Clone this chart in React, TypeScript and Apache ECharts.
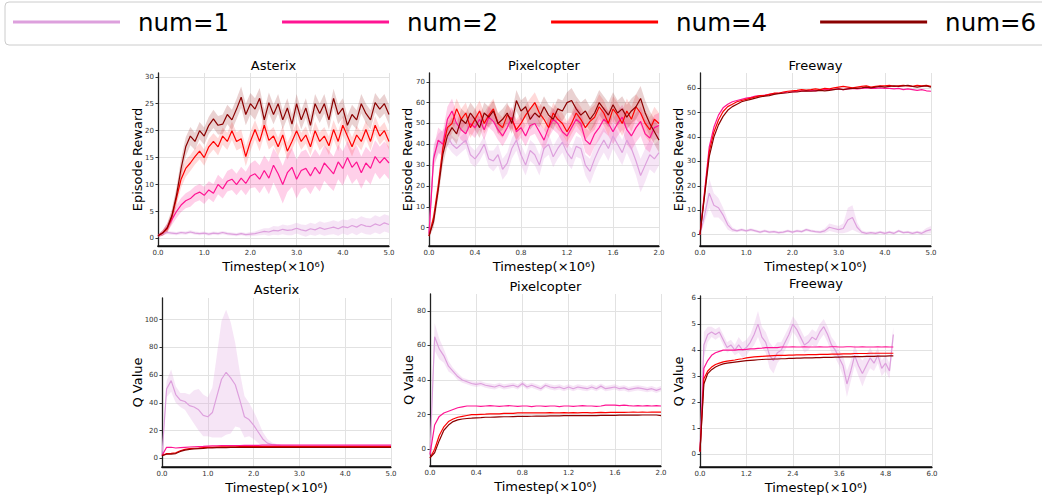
import React, { useEffect, useRef } from "react";
import * as echarts from "echarts";

const NAMES = ["num=1", "num=2", "num=4", "num=6"];
const COLORS = ["#DDA0DD", "#FF1493", "#FF0000", "#8B0000"];
const BAND_COLORS = ["rgba(221,160,221,0.28)", "rgba(255,20,147,0.2)", "rgba(255,0,0,0.15)", "rgba(139,0,0,0.18)"];

// sampling grids (x positions, in units of 1e6 timesteps)
const sampleGrid = (end: number, n: number) =>
  Array.from({ length: n }, (_, i) => Math.round((i * end) / (n - 1) * 1000) / 1000);
const X_5 = sampleGrid(5, 51);
const X_2 = sampleGrid(2, 51);

// tick values
const XT_5 = [0, 1, 2, 3, 4, 5];
const XT_2 = [0, 0.4, 0.8, 1.2, 1.6, 2.0];
const XT_6 = [0, 1.2, 2.4, 3.6, 4.8, 6.0];
const YT_AR = [0, 5, 10, 15, 20, 25, 30];
const YT_PR = [0, 10, 20, 30, 40, 50, 60, 70];
const YT_FR = [0, 10, 20, 30, 40, 50, 60];
const YT_AQ = [0, 20, 40, 60, 80, 100];
const YT_PQ = [0, 20, 40, 60, 80];
const YT_FQ = [0, 1, 2, 3, 4, 5, 6];

// ---- Asterix, Episode Reward ----
const AR1 = [0.5,0.9,1.1,1.0,0.9,1.1,1.0,1.2,1.0,0.9, 1.0,0.8,1.0,0.9,1.1,0.9,0.8,0.7,0.9,0.7, 0.8,0.9,1.1,1.3,1.2,1.5,1.4,1.7,1.5,1.6, 1.9,1.6,1.4,1.8,1.6,2.0,1.7,1.9,2.1,1.8, 2.2,2.0,2.4,2.1,2.6,2.3,2.2,2.7,2.4,2.9, 2.6];
const AR1_B = [0.2,0.3,0.3,0.3,0.3,0.3,0.3,0.3,0.3,0.3, 0.3,0.3,0.3,0.3,0.3,0.3,0.3,0.3,0.3,0.3, 0.4,0.4,0.5,0.6,0.7,0.8,0.8,0.9,0.9,1.0, 1.0,1.0,1.1,1.1,1.1,1.2,1.2,1.2,1.3,1.3, 1.3,1.4,1.4,1.5,1.5,1.5,1.5,1.6,1.6,1.6, 1.6];
const AR2 = [0.5,1.0,2.0,3.5,5.0,6.2,7.0,7.4,8.2,8.6, 8.0,9.0,8.4,10.0,9.2,10.6,11.0,10.0,11.2,10.2, 11.6,12.0,11.0,12.6,11.2,13.6,12.0,10.0,12.2,13.2, 11.0,12.6,13.0,11.6,13.2,12.0,14.0,13.0,12.0,14.2, 13.0,15.0,13.2,14.2,12.2,14.0,13.0,15.2,14.0,15.0, 14.0];
const AR2_B = [0.3,0.5,0.8,1.0,1.2,1.3,1.4,1.5,1.5,1.5, 1.6,1.6,1.7,1.8,1.8,1.9,2.0,2.0,2.1,2.2, 2.3,2.5,2.6,2.8,3.0,3.2,3.4,3.5,3.6,3.6, 3.6,3.5,3.5,3.4,3.4,3.3,3.3,3.3,3.2,3.2, 3.2,3.1,3.1,3.1,3.0,3.0,3.0,3.0,3.0,3.0, 3.0];
const AR4 = [0.5,1.0,1.8,4.0,7.5,11.0,13.0,14.0,15.2,16.2, 15.0,17.0,18.0,17.0,19.0,18.0,20.0,18.0,18.5,15.2, 18.0,20.2,18.0,21.0,18.2,19.0,17.0,19.2,16.2,18.0, 20.0,18.0,19.2,17.0,20.0,18.0,19.0,17.2,20.2,18.0, 21.0,19.0,17.0,19.2,18.0,20.2,18.0,21.0,19.0,20.0, 18.0];
const AR4_B = [0.2,0.5,0.8,1.2,1.5,1.6,1.6,1.5,1.5,1.5, 1.5,1.5,1.5,1.6,1.6,1.6,1.7,1.7,1.7,1.8, 1.8,1.8,1.8,1.8,1.7,1.7,1.7,1.7,1.6,1.6, 1.6,1.6,1.6,1.6,1.7,1.7,1.7,1.7,1.8,1.8, 1.8,1.8,1.8,1.7,1.7,1.7,1.7,1.7,1.6,1.6, 1.6];
const AR6 = [0.5,1.0,2.0,4.2,8.0,13.0,17.0,19.0,18.0,20.0, 19.0,21.0,22.2,21.0,21.2,23.0,22.0,24.0,26.2,23.0, 25.0,24.0,26.0,22.0,25.2,23.0,25.0,22.0,24.2,21.2, 25.0,22.0,24.2,21.0,25.0,23.2,25.0,22.0,26.0,23.0, 24.2,21.0,23.0,22.0,25.0,23.2,22.0,25.2,24.0,25.0, 23.0];
const AR6_B = [0.2,0.5,0.8,1.2,1.5,1.8,1.8,1.7,1.6,1.6, 1.6,1.6,1.7,1.7,1.8,1.8,1.9,1.9,2.0,2.0, 2.0,2.0,1.9,1.9,1.9,1.8,1.8,1.8,1.8,1.8, 1.8,1.8,1.8,1.8,1.8,1.8,1.8,1.8,1.8,1.8, 1.8,1.8,1.8,1.8,1.8,1.8,1.8,1.8,1.8,1.8, 1.8];

// ---- Pixelcopter, Episode Reward ----
const PR1 = [-3,35,40,42,44,40,38,40,42,35, 33,36,40,33,32,35,28,31,38,42, 35,30,37,35,30,38,40,34,38,41, 36,33,39,38,30,27,33,38,42,38, 44,40,36,42,38,32,25,30,35,33, 36];
const PR1_B = [1,5,5,5,5,4,4,4,4,4, 4,4,4,4,5,5,5,5,5,5, 5,5,5,5,5,5,5,5,5,5, 5,5,5,5,5,6,6,6,6,6, 6,6,6,6,7,7,8,8,7,7, 6];
const PR2 = [-3,33,42,40,52,56,50,47,45,50, 48,52,47,53,51,47,44,48,53,46, 48,44,49,50,46,42,48,52,50,46, 44,48,52,50,42,40,45,48,52,50, 46,50,53,47,44,48,51,45,43,48, 49];
const PR2_B = [1,5,6,6,6,6,5,5,5,5, 5,5,5,5,5,5,5,5,5,5, 5,5,5,5,5,5,5,5,5,5, 6,6,6,6,6,6,6,6,6,6, 6,6,6,7,7,7,7,7,7,6, 6];
const PR4 = [-4,5,20,38,48,50,57,52,55,48, 52,56,50,54,57,50,48,54,52,47, 50,54,57,60,55,52,48,55,52,50, 46,50,55,52,48,51,53,58,55,50, 57,54,50,56,52,58,55,50,47,52, 50];
const PR4_B = [1,3,4,5,5,5,5,5,5,5, 5,5,5,5,5,5,5,5,5,5, 5,5,5,5,5,5,5,5,5,5, 5,5,6,6,6,6,6,6,6,6, 6,6,6,6,6,6,6,6,6,6, 5];
const PR6 = [-4,3,18,35,44,48,45,52,50,55, 52,48,55,53,56,50,52,55,50,61, 56,58,52,55,53,58,54,52,57,56, 60,61,57,54,56,52,55,60,57,54, 59,55,57,53,56,58,62,55,50,46, 42];
const PR6_B = [1,3,4,5,5,5,5,5,5,5, 5,5,5,5,5,5,5,5,5,5, 5,5,5,5,5,5,5,5,5,5, 5,6,6,6,6,6,6,6,6,6, 6,6,6,6,6,6,6,6,6,6, 6];

// ---- Freeway, Episode Reward ----
const FR1 = [0,8,17,12,11,8,4,2,1.5,2, 1.5,2,1.5,1,1.5,1,1.2,0.8,1,1.5, 1,1.5,1.2,2,1.5,1.2,1,1.5,3,2.5, 2,2.5,6,7,3,1,0.5,0.8,0.5,1, 0.5,1,0.5,1.5,0.8,1,0.5,1,0.5,1.5, 2];
const FR1_B = [0,3,6,5,4,3,2,1,0.6,0.6, 0.6,0.6,0.6,0.6,0.6,0.6,0.6,0.6,0.6,0.6, 0.6,0.6,0.6,0.6,0.6,0.6,0.6,1.0,1.5,1.5, 1.5,2.0,5.0,5.0,2.0,0.8,0.6,0.6,0.6,0.6, 0.6,0.6,0.6,0.6,0.6,0.6,0.6,0.6,0.8,1.2, 1.5];
const FR2 = [0,18,36,44,49,52,53.5,54.5,55,55.5, 56,56.3,56.8,57,57.2,57.5,57.8,58,58.2,58.5, 58.5,58.8,59,59,59.2,59,59.3,59.5,59.5,59.6, 59.8,59.5,59.8,60,59.8,60,60.2,60,60,60.2, 60,60,59.8,60,59.5,59.8,59.5,59.2,59.5,59,58.8];
const FR4 = [0,17,34,42,47,50.5,52.5,53.5,54.5,55, 55.5,56,56.5,57,57,57.5,58,58,58.5,58.8, 59,59.2,59.5,59.3,59.5,59.8,59.5,60,59.8,60.2, 60.5,60.8,60.5,60.2,60.5,60.8,61,60.5,60.8,61, 61,61.2,60.8,61,61.2,61,60.8,61.2,61,61.2,60.8];
const FR6 = [0,16,32,40,45,48.5,51,52.5,53.5,54.5, 55,55.5,56,56.5,56.8,57,57.5,57.8,58,58.2, 58.5,58.5,58.8,59,58.8,59,59.2,59,59.2,59.5, 59.8,59.5,59.8,60,60,60.2,60.5,60.2,60.5,60.8, 60.5,60.8,61,60.8,61,61.2,60.8,60.5,60.8,61,60.5];

// ---- Asterix, Q Value ----
const AQ1 = [2,50,56,46,42,41,38,37,35,31, 30,33,45,57,62,58,53,42,30,28, 24,19,14,11,10,9.5,9.2,9,9,8.9, 8.9,8.8,8.8,8.8,8.8,8.9,8.8,8.8,8.8,8.8, 8.8,8.9,8.8,8.8,8.8,8.8,8.9,8.8,8.8,8.9, 8.8];
const AQ1_B = [1,6,8,6,5,6,8,12,15,15, 14,18,30,42,45,40,30,20,15,12, 10,8,5,3,1.5,0.8,0.8,0.8,0.8,0.8, 0.8,0.8,0.8,0.8,0.8,0.8,0.8,0.8,0.8,0.8, 0.8,0.8,0.8,0.8,0.8,0.8,0.8,0.8,0.8,0.8, 0.8];
const AQ2 = [2,8,8,7.5,7.8,8,8.2,8.4,8.5,8.6, 8.8,9,9,9.2,9.2,9.3,9.3,9.3,9.4,9.4, 9.4,9.4,9.5,9.5,9.5,9.5,9.5,9.5,9.5,9.5, 9.5,9.5,9.5,9.5,9.5,9.5,9.5,9.5,9.5,9.5, 9.5,9.5,9.5,9.5,9.5,9.5,9.5,9.5,9.5,9.5, 9.5];
const AQ4 = [2,3.5,3.6,4,5.5,6.5,7,7.3,7.5,7.8, 8,8,8.2,8.3,8.3,8.4,8.4,8.5,8.5,8.5, 8.5,8.5,8.5,8.5,8.5,8.5,8.5,8.5,8.5,8.5, 8.5,8.5,8.5,8.5,8.5,8.5,8.5,8.5,8.5,8.5, 8.5,8.5,8.5,8.5,8.5,8.5,8.5,8.5,8.5,8.5, 8.5];
const AQ6 = [2,3,3.1,3.5,5,6,6.5,6.8,7,7.2, 7.5,7.6,7.7,7.8,7.8,7.9,7.9,8,8,8, 8,8,8,8,8,8,8,8,8,8, 8,8,8,8,8,8,8,8,8,8, 8,8,8,8,8,8,8,8,8,8, 8];

// ---- Pixelcopter, Q Value ----
const PQ1 = [-3,65,58,54,48,45,42,40,39,38, 37.5,38,37,36.5,36,37,36,36.5,37,36, 38,36,37,36,35,37,36,35.5,36,35, 36,35,36,35.5,35,36,35,36.5,35,35.5, 36,35,35.5,34.5,35,35.5,35,34.5,35,34, 35];
const PQ1_B = [1,8,6,4,3,2,2,1.5,1.5,1.5, 1.5,1.5,1.5,1.5,1.5,1.5,1.5,1.5,1.5,1.5, 1.5,1.5,1.5,1.5,1.5,1.5,1.5,1.5,1.5,1.5, 1.5,1.5,1.5,1.5,1.5,1.5,1.5,1.5,1.5,1.5, 1.5,1.5,1.5,1.5,1.5,1.5,1.5,1.5,1.5,1.5, 1.5];
const PQ2 = [-3,14,19,21,22,23,24,24.5,25,25, 25,24.8,25,25.2,25,24.8,25,25.2,25,24.8, 25,25,24.6,25,25,24.8,25,25,24.7,25, 25,24.8,25,25.2,25,25,24.8,25,25.5,25.5, 25.5,25.2,25.5,25.2,25,25.2,25,25.2,25,25.2, 25];
const PQ4 = [-5,0,8,13,16,17.5,18.5,19,19.5,20, 20,20.2,20.3,20.5,20.5,20.5,20.8,20.8,20.8,21, 21,21,21,21,21,21,21.2,21,21,21.2, 21,21.2,21,21.2,21.2,21,21.2,21.3,21.2,21.3, 21.3,21.4,21.3,21.4,21.5,21.4,21.5,21.4,21.5,21.5, 21.5];
const PQ6 = [-5,-2,5,11,14,16,17,17.5,17.8,18, 18.2,18.3,18.5,18.5,18.6,18.7,18.8,18.8,18.9,19, 19,19,19.1,19.2,19.2,19.2,19.3,19.3,19.3,19.4, 19.4,19.4,19.5,19.5,19.5,19.5,19.5,19.6,19.6,19.6, 19.6,19.7,19.7,19.7,19.7,19.7,19.8,19.8,19.8,19.8, 19.5];

// ---- Freeway, Q Value ----
const FQ1 = [0.2,4.2,4.6,4.7,4.6,4.7,4.4,4.1,4.2,4.0, 4.2,4.0,4.1,4.3,4.6,5.0,4.5,4.3,3.8,3.6, 3.9,4.0,4.3,4.6,5.0,4.8,4.5,4.2,4.3,4.5, 4.4,4.7,4.9,4.6,4.2,4.0,3.7,3.4,2.7,3.2, 3.8,3.4,3.1,3.4,3.7,3.5,3.8,3.3,3.5,3.2, 4.6];
const FQ1_B = [0.2,0.5,0.3,0.2,0.2,0.2,0.2,0.2,0.2,0.2, 0.3,0.3,0.3,0.3,0.4,0.5,0.4,0.4,0.5,0.5, 0.4,0.3,0.3,0.3,0.3,0.3,0.3,0.3,0.3,0.3, 0.3,0.3,0.3,0.3,0.3,0.3,0.3,0.4,0.5,0.4, 0.4,0.4,0.5,0.4,0.4,0.3,0.3,0.3,0.3,0.3, 0.3];
const FQ2 = [0.1,3.3,3.6,3.8,3.9,3.95,4.0,4.0,4.0,4.0, 4.02,4.02,4.03,4.05,4.05,4.07,4.08,4.1,4.1,4.1, 4.1,4.12,4.12,4.12,4.13,4.12,4.12,4.13,4.12,4.12, 4.12,4.13,4.12,4.12,4.13,4.13,4.12,4.12,4.13,4.13, 4.12,4.12,4.13,4.12,4.12,4.12,4.13,4.12,4.13,4.12, 4.12];
const FQ4 = [0.1,2.9,3.2,3.35,3.45,3.5,3.55,3.58,3.6,3.62, 3.65,3.67,3.7,3.72,3.74,3.75,3.76,3.77,3.78,3.79, 3.8,3.8,3.8,3.81,3.81,3.82,3.82,3.82,3.83,3.83, 3.83,3.84,3.84,3.84,3.85,3.85,3.85,3.86,3.86,3.86, 3.87,3.87,3.87,3.87,3.88,3.88,3.88,3.88,3.88,3.88, 3.88];
const FQ6 = [0.1,2.7,3.1,3.25,3.35,3.42,3.47,3.5,3.52,3.54, 3.56,3.58,3.6,3.61,3.62,3.63,3.64,3.65,3.65,3.66, 3.66,3.67,3.67,3.68,3.68,3.69,3.69,3.7,3.7,3.7, 3.71,3.71,3.72,3.72,3.72,3.73,3.73,3.74,3.74,3.74, 3.75,3.75,3.75,3.76,3.76,3.76,3.77,3.77,3.77,3.78, 3.78];

const FONT = "DejaVu Sans";

type Panel = {
  rect: { left: number; top: number; width: number; height: number };
  xs: number[];
  xMax: number;
  xTicks: number[];
  yMin: number;
  yMax: number;
  yTicks: number[];
  title: string;
  titleY: number;
  yName: string;
  yNameX: number;
  lines: (number[] | null)[][]; // [values, band]
};

const PANELS: Panel[] = [
  { rect: { left: 158, top: 73, width: 231, height: 173 }, xs: X_5, xMax: 5, xTicks: XT_5, yMin: -1.4, yMax: 30.7, yTicks: YT_AR,
    title: "Asterix", titleY: 65.5, yName: "Episode Reward", yNameX: 137,
    lines: [[AR1, AR1_B], [AR2, AR2_B], [AR4, AR4_B], [AR6, AR6_B]] },
  { rect: { left: 429, top: 73, width: 230, height: 173 }, xs: X_2, xMax: 2, xTicks: XT_2, yMin: -8.8, yMax: 74.2, yTicks: YT_PR,
    title: "Pixelcopter", titleY: 65, yName: "Episode Reward", yNameX: 407,
    lines: [[PR1, PR1_B], [PR2, PR2_B], [PR4, PR4_B], [PR6, PR6_B]] },
  { rect: { left: 700, top: 73, width: 231, height: 173 }, xs: X_5, xMax: 5, xTicks: XT_5, yMin: -4.7, yMax: 66.3, yTicks: YT_FR,
    title: "Freeway", titleY: 65, yName: "Episode Reward", yNameX: 678,
    lines: [[FR1, FR1_B], [FR2, null], [FR4, null], [FR6, null]] },
  { rect: { left: 162, top: 298, width: 229, height: 169 }, xs: X_5, xMax: 5, xTicks: XT_5, yMin: -6.2, yMax: 115.5, yTicks: YT_AQ,
    title: "Asterix", titleY: 289, yName: "Q Value", yNameX: 137,
    lines: [[AQ1, AQ1_B], [AQ2, null], [AQ4, null], [AQ6, null]] },
  { rect: { left: 430, top: 294, width: 231, height: 172 }, xs: X_2, xMax: 2, xTicks: XT_2, yMin: -9.65, yMax: 89.7, yTicks: YT_PQ,
    title: "Pixelcopter", titleY: 286, yName: "Q Value", yNameX: 408,
    lines: [[PQ1, PQ1_B], [PQ2, null], [PQ4, null], [PQ6, null]] },
  { rect: { left: 700, top: 296, width: 232, height: 171 }, xs: X_5, xMax: 6, xTicks: XT_6, yMin: -0.49, yMax: 6.08, yTicks: YT_FQ,
    title: "Freeway", titleY: 283, yName: "Q Value", yNameX: 678,
    lines: [[FQ1, FQ1_B], [FQ2, null], [FQ4, null], [FQ6, null]] },
];

function buildOption() {
  const grids: any[] = [];
  const xAxes: any[] = [];
  const yAxes: any[] = [];
  const series: any[] = [];
  const graphics: any[] = [];

  graphics.push({
    type: "rect",
    z: 0,
    shape: { x: 5, y: 2, width: 1050, height: 43, r: 4 },
    style: { fill: "#ffffff", stroke: "#cccccc", lineWidth: 1 },
  });

  PANELS.forEach((p, g) => {
    grids.push({ ...p.rect, containLabel: false });
    xAxes.push({
      type: "value",
      gridIndex: g,
      position: "bottom",
      min: 0,
      max: p.xMax,
      axisLine: { show: true, onZero: false, lineStyle: { color: "#111", width: 1.4 } },
      axisTick: { show: false, customValues: p.xTicks },
      axisLabel: {
        customValues: p.xTicks,
        formatter: (v: number) => v.toFixed(1),
        fontSize: 7,
        color: "#333",
        fontFamily: FONT,
        margin: 3,
      },
      splitLine: { show: true, lineStyle: { color: "#e2e2e2", width: 1 } },
    });
    yAxes.push({
      type: "value",
      gridIndex: g,
      position: "left",
      min: p.yMin,
      max: p.yMax,
      axisLine: { show: true, onZero: false, lineStyle: { color: "#222", width: 1.3 } },
      axisTick: { show: true, length: 2.5, customValues: p.yTicks, lineStyle: { color: "#333" } },
      axisLabel: {
        customValues: p.yTicks,
        formatter: (v: number) => String(Math.round(v)),
        fontSize: 7,
        color: "#333",
        fontFamily: FONT,
        margin: 4,
      },
      splitLine: { show: true, lineStyle: { color: "#e2e2e2", width: 1 } },
    });

    const cx = p.rect.left + p.rect.width / 2;
    const bottom = p.rect.top + p.rect.height;
    // bottom spine of the panel (frame element, on top of everything)
    graphics.push({
      type: "line",
      z: 100,
      silent: true,
      shape: { x1: p.rect.left - 0.5, y1: bottom, x2: p.rect.left + p.rect.width, y2: bottom },
      style: { stroke: "#111", lineWidth: 1.4 },
    });
    graphics.push({
      type: "text",
      x: cx,
      y: p.titleY,
      style: { text: p.title, align: "center", verticalAlign: "middle", fontSize: 13, fontFamily: FONT, fill: "#000" },
    });
    graphics.push({
      type: "text",
      x: cx,
      y: bottom + 20.5,
      style: { text: "Timestep(×10⁶)", align: "center", verticalAlign: "middle", fontSize: 13, fontFamily: FONT, fill: "#000" },
    });
    graphics.push({
      type: "text",
      x: p.yNameX,
      y: p.rect.top + p.rect.height / 2,
      rotation: Math.PI / 2,
      style: { text: p.yName, align: "center", verticalAlign: "middle", fontSize: 13, fontFamily: FONT, fill: "#000" },
    });

    const xs = p.xs;
    p.lines.forEach(([vals, band], k) => {
      if (!vals) return;
      if (band) {
        const lo = vals.map((v, i) => v - band[i]);
        const hi = vals.map((v, i) => v + band[i]);
        const fill = BAND_COLORS[k];
        series.push({
          type: "custom",
          name: "band",
          xAxisIndex: g,
          yAxisIndex: g,
          silent: true,
          z: 1,
          clip: true,
          data: xs.map((x, i) => [x, lo[i], hi[i]]),
          encode: { x: 0, y: [1, 2] },
          renderItem: (params: any, api: any) => {
            if (params.dataIndex !== 0) return null;
            const pts: number[][] = [];
            for (let i = 0; i < xs.length; i++) pts.push(api.coord([xs[i], lo[i]]));
            for (let i = xs.length - 1; i >= 0; i--) pts.push(api.coord([xs[i], hi[i]]));
            return { type: "polygon", shape: { points: pts }, style: { fill } };
          },
        });
      }
      series.push({
        type: "line",
        name: NAMES[k],
        xAxisIndex: g,
        yAxisIndex: g,
        data: xs.map((x, i) => [x, vals[i]]),
        symbol: "none",
        showSymbol: false,
        silent: true,
        z: 3 + k,
        color: COLORS[k],
        lineStyle: { color: COLORS[k], width: 1.2 },
      });
    });
  });

  return {
    animation: false,
    backgroundColor: "#ffffff",
    textStyle: { fontFamily: FONT },
    legend: {
      data: NAMES,
      left: 8,
      top: 9.5,
      padding: [0, 5, 0, 5],
      z: 10,
      icon: "rect",
      itemWidth: 107,
      itemHeight: 3,
      itemGap: 53,
      selectedMode: false,
      textStyle: { fontSize: 24.5, fontFamily: FONT, color: "#000", padding: [0, 0, 0, 13] },
    },
    graphic: { elements: graphics },
    grid: grids,
    xAxis: xAxes,
    yAxis: yAxes,
    series,
  };
}

export default function App() {
  const ref = useRef<HTMLDivElement>(null);
  useEffect(() => {
    document.body.style.margin = "0";
    if (!ref.current) return;
    const chart = echarts.init(ref.current, null, { renderer: "svg" });
    chart.setOption(buildOption() as any);
    return () => chart.dispose();
  }, []);
  return <div ref={ref} style={{ width: 1042, height: 497 }} />;
}
